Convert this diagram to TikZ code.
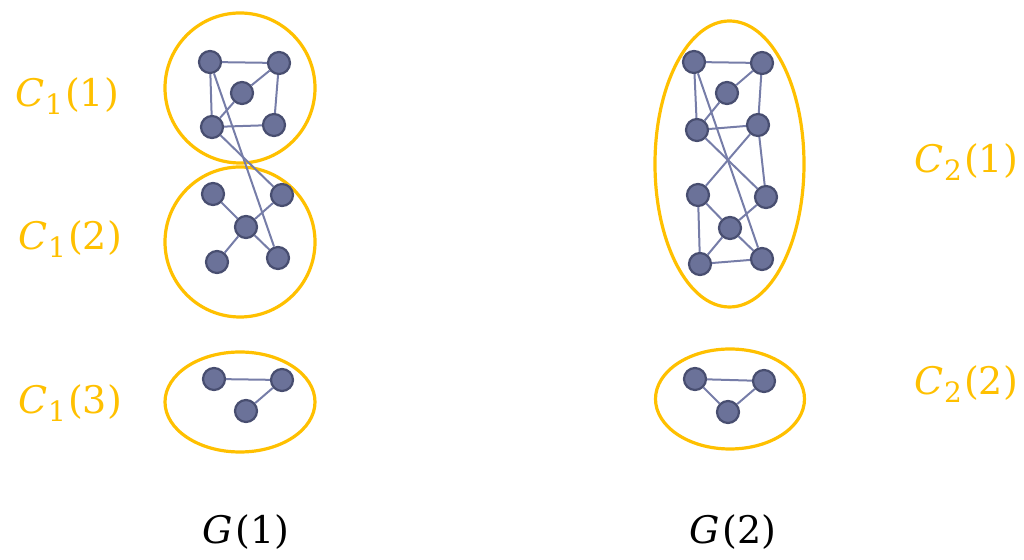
\documentclass[tikz,border=0pt]{standalone}
\usepackage{tikz}
\usepackage{fontspec}
\usetikzlibrary{shapes.geometric}
\newfontfamily\lblfont{DejaVu Serif}
\definecolor{clgold}{RGB}{255,192,0}
\definecolor{vxfill}{RGB}{107,114,153}
\definecolor{vxdraw}{RGB}{72,78,112}
\definecolor{edgecol}{RGB}{118,125,168}
% cluster label: C with index, then (part)
\newcommand{\clname}[2]{\textit{C}\kern0.5pt\raisebox{-0.4ex}{\fontsize{14}{16}\selectfont #1}\kern1pt(#2)}

\begin{document}
\begin{tikzpicture}[
    x=0.5pt, y=-0.5pt,
    vertex/.style={circle, draw=vxdraw, fill=vxfill, line width=1.1pt,
        minimum size=11pt, inner sep=0pt},
    link/.style={draw=edgecol, line width=1pt},
    cluster/.style={ellipse, draw=clgold, line width=1.6pt, fill=none, inner sep=0pt},
    cname/.style={text=clgold, font=\lblfont\fontsize{19}{23}\selectfont, anchor=center},
    gname/.style={text=black, font=\lblfont\fontsize{19}{23}\selectfont, anchor=center}
]
\useasboundingbox (0,0) rectangle (1024,560);

% clusters of G(1)
\node (C11) [cluster, minimum width=75pt, minimum height=75pt] at (240,88) {};
\node (C12) [cluster, minimum width=75pt, minimum height=75pt] at (240,242) {};
\node (C13) [cluster, minimum width=75pt, minimum height=50pt] at (240,402) {};
% clusters of G(2)
\node (C21) [cluster, minimum width=74.5pt, minimum height=143pt] at (729.5,164) {};
\node (C22) [cluster, minimum width=74.5pt, minimum height=50pt] at (730,399) {};

% G(1), first cluster
\node (A1) [vertex] at (210,62) {};
\node (A2) [vertex] at (279,63) {};
\node (A3) [vertex] at (242,93) {};
\node (A4) [vertex] at (212,127) {};
\node (A5) [vertex] at (274,125) {};
% G(1), second cluster
\node (B1) [vertex] at (213,194) {};
\node (B2) [vertex] at (282,195) {};
\node (B3) [vertex] at (246,227) {};
\node (B4) [vertex] at (217,262) {};
\node (B5) [vertex] at (278,258) {};
% G(1), third cluster
\node (E1) [vertex] at (214,379) {};
\node (E2) [vertex] at (282,380) {};
\node (E3) [vertex] at (246,411) {};

% G(2), first cluster
\node (D1) [vertex] at (694,62) {};
\node (D2) [vertex] at (762,63) {};
\node (D3) [vertex] at (727,93) {};
\node (D4) [vertex] at (697,130) {};
\node (D5) [vertex] at (758,125) {};
\node (D6) [vertex] at (698,195) {};
\node (D7) [vertex] at (766,197) {};
\node (D8) [vertex] at (730,228) {};
\node (D9) [vertex] at (700,264) {};
\node (D10) [vertex] at (762,259) {};
% G(2), second cluster
\node (F1) [vertex] at (695,379) {};
\node (F2) [vertex] at (764,381) {};
\node (F3) [vertex] at (728,412) {};

% edges of G(1)
\draw [link] (A1) -- (A2);
\draw [link] (A1) -- (A4);
\draw [link] (A2) -- (A3);
\draw [link] (A2) -- (A5);
\draw [link] (A3) -- (A4);
\draw [link] (A4) -- (A5);
\draw [link] (A1) -- (B5);
\draw [link] (A4) -- (B2);
\draw [link] (B1) -- (B3);
\draw [link] (B3) -- (B2);
\draw [link] (B3) -- (B4);
\draw [link] (B3) -- (B5);
\draw [link] (E1) -- (E2);
\draw [link] (E2) -- (E3);

% edges of G(2)
\draw [link] (D1) -- (D2);
\draw [link] (D1) -- (D4);
\draw [link] (D2) -- (D3);
\draw [link] (D2) -- (D5);
\draw [link] (D3) -- (D4);
\draw [link] (D4) -- (D5);
\draw [link] (D1) -- (D10);
\draw [link] (D4) -- (D7);
\draw [link] (D5) -- (D6);
\draw [link] (D5) -- (D7);
\draw [link] (D6) -- (D8);
\draw [link] (D6) -- (D9);
\draw [link] (D8) -- (D7);
\draw [link] (D8) -- (D9);
\draw [link] (D8) -- (D10);
\draw [link] (D9) -- (D10);
\draw [link] (F1) -- (F2);
\draw [link] (F1) -- (F3);
\draw [link] (F2) -- (F3);

% labels
\node (L11) [cname] at (67,96) {\clname{1}{1}};
\node (L12) [cname] at (70,239) {\clname{1}{2}};
\node (L13) [cname] at (70,403) {\clname{1}{3}};
\node (L21) [cname] at (966,162) {\clname{2}{1}};
\node (L22) [cname] at (966,384) {\clname{2}{2}};
\node (G1) [gname] at (246,532) {\textit{G}\kern1pt(1)};
\node (G2) [gname] at (733,532) {\textit{G}\kern1pt(2)};
\end{tikzpicture}
\end{document}
